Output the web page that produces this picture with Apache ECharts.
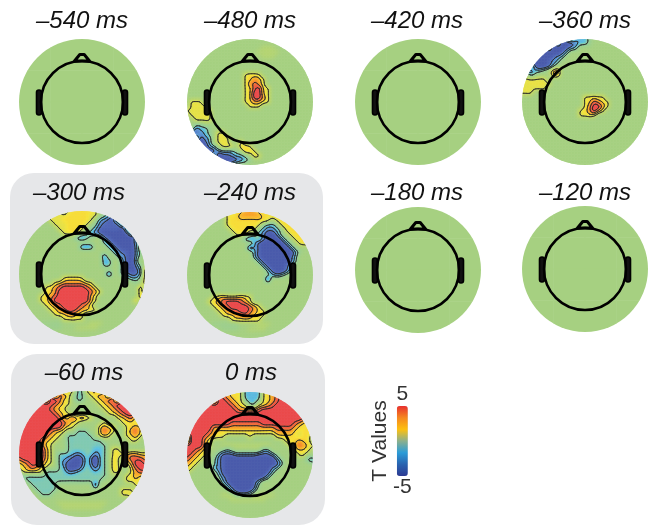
<!DOCTYPE html>
<html><head><meta charset="utf-8">
<style>html,body{margin:0;padding:0;background:#fff}#c{width:652px;height:525px}</style>
<script src="https://cdn.jsdelivr.net/npm/echarts@6/dist/echarts.min.js"></script>
</head><body><div id="c"></div>
<script>
// T values: one character per sample on a scalp grid, see tCodes.
const tCodes = {'0':0,'+':0.6,'-':-0.6,'1':1,'u':1.8,'y':2.3,'z':2.7,'2':2.2,'3':3,'4':4,'5':5.2,'a':-1,'v':-1.7,'b':-2.2,'c':-3,'d':-4,'e':-5.2};
const flat = ["00000","00000","00000","00000","00000"];
const t540 = flat, t420 = flat, t180 = flat, t120 = flat;
const t480 = [
"00000000000000000000000000000","00000000000000000000000000000","00000000000000000+++000000000","0000000000000000+++++00000000",
"00000000000000000+++000000000","00000000000000000000000000000","00000000000000000000000000000","00000000000000000000000000000",
"0000000000000u22u000000000000","0000000000000u233u00000000000","0000000000000u343u00000000000","0000000000000u2452u0000000000",
"0000000000000u2552u0000000000","0000000000000u2553u0000000000","0uuu000000000u2332u0000000000","0uuuu000000000uuu000000000000",
"uuuuuu0000000000000000000000","0uuuuu0000000000000000000000","00uuuu000000000000000000000000","00aa0000000000000000000000000",
"00cbba00000000000000000000000","00dcba0uu000000000000000000","000dcb0uuu000000000000000000","000edb0uuu00u000000000000000",
"0000ecb0uuu0yyu00000000000000","00000edcbbba0yyu000000000000","0000000eddcbba0yu000000000000","00000000eeedcba00000000000000","00000000000000000000000000000"];
const t360 = [
"000000000000bbba0000000000000","000000000eedcbba0000000000000","0000000eeedcb00000000000000000","00000eeeedb0000000000000000000",
"0000eeedcb00000000000000000000","000eeedcb000000000000000000000","000deedb0000000000000000000000","00cbba0zz000000000000000000000",
"00ba000zz000000000000000000000","0uuuuu0000000000000000000000","uuuuuuu000000000000000000000","uuuuuu0000000000000000000000",
"uuu0000000000000000000000000","00000000000000uu2uu0000000000","00000000000000u2432u000000000","00000000000000u3553u000000000",
"0000000000000u2353u0000000000","0000000000000uu2u000000000000"];
const t300 = [
"00000000000u22222u00000000000","00000000uuu22222uu0abb0000000","0000000uuu222222u0bcdd0000000","00000000uuu2222u0acdddd00000",
"000000000uu222u0abddddde0000","0000000000uu2u0abcdeeeeed000","0000000000000bcba00cdeeeeeb00","0000000000000000000bcdeeeeb00",
"00000000000000ccc000bcdeeec00","000000000000000000000bcddeca0","0000000000000000000c00bcdeca0","0000000000000000000bb00bdeb00",
"0000000000000000000bb00bdeca0","00000000000000000000000bdedby","00000000000000000000d00bcddby","0000000000u222u000000000abbay",
"00000000u2333332u000000000a0y","000000u2345555543u000000000y0","000000u23555555543u00000000y0","00000u23455555553u000000000y0",
"00000u23555555553u00000000y00","000000u234555543u000000000000","0000000u234554332u00000000000","00000000u22332u00000000000000",
"0000000000uu2uu00000000000000","00000-----000000+++0000000000","0000000---000+++++00000000000"];
const t240 = [
"0000000000u223332222222000000","000000000u2233333222222222000","000000000u22222222u0u22222000","000000000u222222uabbau2222200",
"0000000000u222uuabccbau222200","00000000000uuu0abceeca0u22200","0000000000000bcbacdeeca0u2220","000000000000000bdeeeeeca0u220",
"00000000000000dbdeeeeeeca0000","000000000000000bdeeeeeeeca000","000000000000000bdeeeeeedb0000","0000000000000000bdeeeeedb0000",
"00000000000000000bdeeedb00000","000000000000000000bdeedb00000","000000000000000000abcba000000","000000000000000000d0000000000",
"00000000000000000000000000000","00000000000000000000000000000","00000000000000000000000000000","000000u2322232u00000000000000",
"00000u23455543u00000000000000","000000u234555543u000000000000","0000000u234455432u00000000000","00000000u22334322u00000000000",
"0000000000u22222u000000000000","000000------0000+++0000000000","00000000----00++++00000000000"];
const t60 = [
"000000000002uvvu2300000000000","0000000004320vv0u233000000000","00000005542u0vv00u23440000000","00000555432u000000u2345500000",
"0000555432u00000000u234550000","00055555432u00000000u23455000","0055555554224242u00000u234u00","0055555555432u00000u000u22u00",
"055555555532u00000232u00u2320","0555555432u00vvv00243u00u3420","555555432u0vvvvvv0u2u000u23u0","55555432u00vvvvvvvv000000uu00",
"5555542u000vvvvvvvvv000000000","5555553u000vvvvvvbbv0uu000000","5555553u0vvvbcbvvcbv0u2u23322","4555553u0vbcdedvcebv02u034443","2345542u0vcdeedvcebv02u0u3554",
"u23432u00vbeeecvbdbv02u002455","0u222uvvvvvccbvvvbvv0uu00u344","0vvvvvvvvvvvvvvvvvvv0000u2320","00vvvvvvvvvvvvvvvvv00000uu2u0",
"000vvvvvv00000000d00000000uu0","0000vvvvv00000000000000uuu000","00000vvv000000000000000uuu000","000000000000000000000000000",
"000000000+++++++++++000000000","0000000000+++++++++0000000000"];
const t0 = [
"000000000022ubbbbu22000000000","000000004322ubbbbu23440000000","000000055432uabbau234550000000","0000055555432uaau2345555500000",
"00005555555433334555555550000","00055555555555555555555555000","00555555555555555555555555400","05555555554444444555555543220",
"05555533333333333333444432220","0555543222222222222233332u220","0555432uu00000u00000u2222u220","05553u0000000000000000u223220",
"55553u00+++++++++++0000u2432u","5543u0000000000000000000u22u0","5432u00000000000000000000uu00","432u00000000000000000000000bb",
"32u0000000000000000000000000a","2u00000000000000000000000000","u00000000000000000000000000","","","","",
"00000000++++++++++++","0000000000++++++++"];
const zeroBlue = [
"","","","","","","","","","","","","",
"00000000aba000000bb0","0000000bdddcccccdddca000000000","000000acdeeeeeeeeeeeca00000000","000000acdeeeeeeeeeeedb00000000",
"000000bcdeeeeeeeeeecb00000000","0000000bdeeeeeeeeedb000000000","0000000acdeeeeeeedb0000000000","00000000bdeeeeedb000000000000",
"000000000bdeeeeda000000000000","0000000000bdeedb0000000000000","00000000000aaaa000000000000"];
const panelLabels = ["\u2013540 ms","\u2013480 ms","\u2013420 ms","\u2013360 ms","\u2013300 ms","\u2013240 ms","\u2013180 ms","\u2013120 ms","\u201360 ms","0 ms"];
const panelFields = [t540,t480,t420,t360,t300,t240,t180,t120,t60,t0];
const mapLevels = [-5,-4,-3,-2.1,-1.6,-1,0,1,1.6,2.1,3,4,5];
const mapColors = ['#4a5bab','#5066b6','#5a92d2','#5cc2e2','#8accA6','#98cf94','#a6d081','#bcd66a','#d8de52','#f7e43a','#f8a428','#ef5c40','#ea4a4c'];
const barColors = ['#2c3a92','#2a63b0','#2b9cd8','#8cb08c','#fdc010','#f5871f','#e8302f'];
const contourLevels = [-3.5,-2.5,-1.5,1.5,2.5,3.5,4.5];
const colorbarTicks = ['5','-5'];

const centers = [[82,102],[250,102],[418,102],[585,102],[82,274],[250,275],[418,270],[585,269],[82,454],[250,455]];
const labelPos = [[82,9],[250,9],[417,9],[585,9],[79,181],[250,181],[417,181],[585,181],[84,361],[251,361]];
const R = 63;
const smoothKernel = [1,2,3,2,1];

function codesToMatrix(rows, over){
  const n = rows.length<=5 && !over ? 5 : 29;
  const m=[];
  for(let j=0;j<n;j++){
    const a=(rows[j]||'').padEnd(n,'0'), b=over?(over[j]||'').padEnd(n,'0'):null, r=[];
    for(let i=0;i<n;i++){
      let c=a[i]; if(b&&b[i]!=='0') c=b[i];
      r.push(tCodes[c]||0);
    }
    m.push(r);
  }
  if(n===29){ // nodes beyond the scalp edge repeat the nearest value inside it
    const o=m.map(r=>r.slice());
    for(let j=0;j<n;j++) for(let i=0;i<n;i++){
      const d=Math.hypot(i-14,j-14);
      if(d>14.6) m[j][i]=o[Math.round(14+(j-14)*13.8/d)][Math.round(14+(i-14)*13.8/d)];
    }
  }
  return m;
}
function cr(p0,p1,p2,p3,t){
  return 0.5*((2*p1)+(-p0+p2)*t+(2*p0-5*p1+4*p2-p3)*t*t+(-p0+3*p1-3*p2+p3)*t*t*t);
}
function smooth(F){
  const N=F.length,h=2,w=9;
  const H=F.map(r=>r.map((_,i)=>{let q=0;for(let k=-h;k<=h;k++)q+=smoothKernel[k+h]*r[Math.max(0,Math.min(N-1,i+k))];return q/w;}));
  return H.map((r,j)=>r.map((_,i)=>{let q=0;for(let k=-h;k<=h;k++)q+=smoothKernel[k+h]*H[Math.max(0,Math.min(N-1,j+k))][i];return q/w;}));
}
function refine(m,s){
  const n=m.length, N=(n-1)*s+1, at=(j,i)=>m[Math.max(0,Math.min(n-1,j))][Math.max(0,Math.min(n-1,i))];
  const F=[];
  for(let J=0;J<N;J++){
    const row=[], j=Math.min(n-2,Math.floor(J/s)), ty=J/s-j;
    for(let I=0;I<N;I++){
      const i=Math.min(n-2,Math.floor(I/s)), tx=I/s-i, c=[];
      for(let k=-1;k<=2;k++) c.push(cr(at(j+k,i-1),at(j+k,i),at(j+k,i+1),at(j+k,i+2),tx));
      row.push(cr(c[0],c[1],c[2],c[3],ty));
    }
    F.push(row);
  }
  return s>1?smooth(F):F;
}
function colorOf(t){
  const L=mapLevels;
  if(t<=L[0]) return mapColors[0];
  if(t>=L[L.length-1]) return mapColors[L.length-1];
  for(let k=0;k<L.length-1;k++) if(t<=L[k+1]){
    return echarts.color.lerp((t-L[k])/(L[k+1]-L[k]),[mapColors[k],mapColors[k+1]]);
  }
}
function cellClip(api,i,j,n){
  const st=2/(n-1), x0=-1+i*st, x1=x0+st, y1=1-j*st, y0=y1-st;
  const near=Math.hypot(Math.max(x0,0,-x1),Math.max(y0,0,-y1));
  if(near>=1) return {skip:true};
  const far=Math.hypot(Math.max(Math.abs(x0),Math.abs(x1)),Math.max(Math.abs(y0),Math.abs(y1)));
  const c=api.coord([0,0]), u=api.size([1,1])[0];
  return far<=1?{}:{clipPath:{type:'circle',shape:{cx:c[0],cy:c[1],r:u}}};
}
function fillItem(F,n,s){
  return function(params,api){
    const i=api.value(2), j=api.value(3);
    if(i>=n-1||j>=n-1) return null;
    const clip=cellClip(api,i,j,n); if(clip.skip) return null;
    const p0=api.coord([api.value(0),api.value(1)]), u=api.size([2/(n-1),2/(n-1)])[0]/s;
    const children=[];
    for(let b=0;b<s;b++) for(let a=0;a<s;a++){
      const I=i*s+a,J=j*s+b, t=(F[J][I]+F[J][I+1]+F[J+1][I]+F[J+1][I+1])/4;
      children.push({type:'rect',shape:{x:p0[0]+a*u-.3,y:p0[1]+b*u-.3,width:u+.6,height:u+.6},style:{fill:colorOf(t)},silent:true});
    }
    return Object.assign({type:'group',children},clip);
  };
}
function contourItem(F,n,s){
  return function(params,api){
    const i=api.value(2), j=api.value(3);
    if(i>=n-1||j>=n-1||n<10) return null;
    const clip=cellClip(api,i,j,n); if(clip.skip) return null;
    const p0=api.coord([api.value(0),api.value(1)]), u=api.size([2/(n-1),2/(n-1)])[0]/s;
    const children=[];
    for(let b=0;b<s;b++) for(let a=0;a<s;a++){
      const I=i*s+a,J=j*s+b, v=[F[J][I],F[J][I+1],F[J+1][I+1],F[J+1][I]];
      const corner=[[a,b],[a+1,b],[a+1,b+1],[a,b+1]];
      contourLevels.forEach(l=>{
        const pts=[];
        for(let e=0;e<4;e++){
          const f=(e+1)%4;
          if((v[e]<l)!==(v[f]<l)){
            const t=(l-v[e])/(v[f]-v[e]);
            pts.push([p0[0]+u*(corner[e][0]+t*(corner[f][0]-corner[e][0])),p0[1]+u*(corner[e][1]+t*(corner[f][1]-corner[e][1]))]);
          }
        }
        for(let k=0;k+1<pts.length;k+=2){
          children.push({type:'line',shape:{x1:pts[k][0],y1:pts[k][1],x2:pts[k+1][0],y2:pts[k+1][1]},
            style:{stroke:'#2a2a2a',lineWidth:0.9,lineCap:'round'},silent:true});
        }
      });
    }
    return children.length?Object.assign({type:'group',children},clip):null;
  };
}
function headItem(params,api){
  const c=api.coord([0,0]), u=api.size([1,1])[0], k=u/63;
  const P=(x,y)=>[c[0]+x*k,c[1]+y*k];
  const ear=(x)=>{const p=P(x,-12);return {type:'rect',shape:{x:p[0],y:p[1],width:5*k,height:25*k,r:2.5*k},
    style:{fill:'#111',stroke:'#000',lineWidth:1.6}}};
  return {type:'group',silent:true,children:[
    ear(-45.5),ear(40.5),
    {type:'polygon',shape:{points:[P(-7.5,-41),P(-2.2,-47.5),P(2.2,-47.5),P(7.5,-41)]},style:{fill:'none',stroke:'#000',lineWidth:3,lineJoin:'round'}},
    {type:'circle',shape:{cx:c[0],cy:c[1],r:41*k},style:{fill:'none',stroke:'#000',lineWidth:2.5}}
  ]};
}

const grid=[],xAxis=[],yAxis=[],series=[],title=[];
panelFields.forEach((rows,p)=>{
  const m=codesToMatrix(rows,p===9?zeroBlue:null), n=m.length, s=n>10?3:1, F=refine(m,s);
  const [cx,cy]=centers[p];
  grid.push({left:cx-R,top:cy-R,width:2*R,height:2*R});
  xAxis.push({type:'value',gridIndex:p,min:-1,max:1,show:false});
  yAxis.push({type:'value',gridIndex:p,min:-1,max:1,show:false});
  const data=[];
  for(let j=0;j<n;j++) for(let i=0;i<n;i++) data.push([-1+2*i/(n-1),1-2*j/(n-1),i,j,m[j][i]]);
  const base={type:'custom',xAxisIndex:p,yAxisIndex:p,data,encode:{x:0,y:1},silent:true,animation:false,progressive:0,clip:false};
  series.push(Object.assign({},base,{z:2,renderItem:fillItem(F,n,s)}));
  series.push(Object.assign({},base,{z:3,renderItem:contourItem(F,n,s)}));
  series.push({type:'custom',xAxisIndex:p,yAxisIndex:p,data:[[0,0]],encode:{x:0,y:1},silent:true,animation:false,clip:false,z:4,renderItem:headItem});
  title.push({text:panelLabels[p],left:labelPos[p][0],top:labelPos[p][1],textAlign:'center',padding:0,
    textStyle:{fontFamily:'Liberation Sans',fontStyle:'italic',fontWeight:'normal',fontSize:24,color:'#111'}});
});
const chart=echarts.init(document.getElementById('c'),null,{renderer:'canvas'});
chart.setOption({
  animation:false,backgroundColor:'#fff',title,grid,xAxis,yAxis,series,
  graphic:[
    {type:'rect',z:-1,shape:{x:10,y:173,width:313,height:171,r:24},style:{fill:'#e6e7e9'},silent:true},
    {type:'rect',z:-1,shape:{x:11,y:354,width:314,height:171,r:26},style:{fill:'#e6e7e9'},silent:true},
    {type:'text',x:380,y:441,rotation:Math.PI/2,style:{text:'T Values',fontFamily:'Liberation Sans',fontSize:21,fill:'#333',align:'center',verticalAlign:'middle'},silent:true}
  ],
  visualMap:{type:'continuous',min:-5,max:5,seriesIndex:0,dimension:4,left:378,top:369,itemWidth:11,itemHeight:70,
    text:colorbarTicks,textGap:1,calculable:false,hoverLink:false,realtime:false,
    textStyle:{fontFamily:'Liberation Sans',fontSize:21,color:'#333'},inRange:{color:barColors}}
});
</script></body></html>
